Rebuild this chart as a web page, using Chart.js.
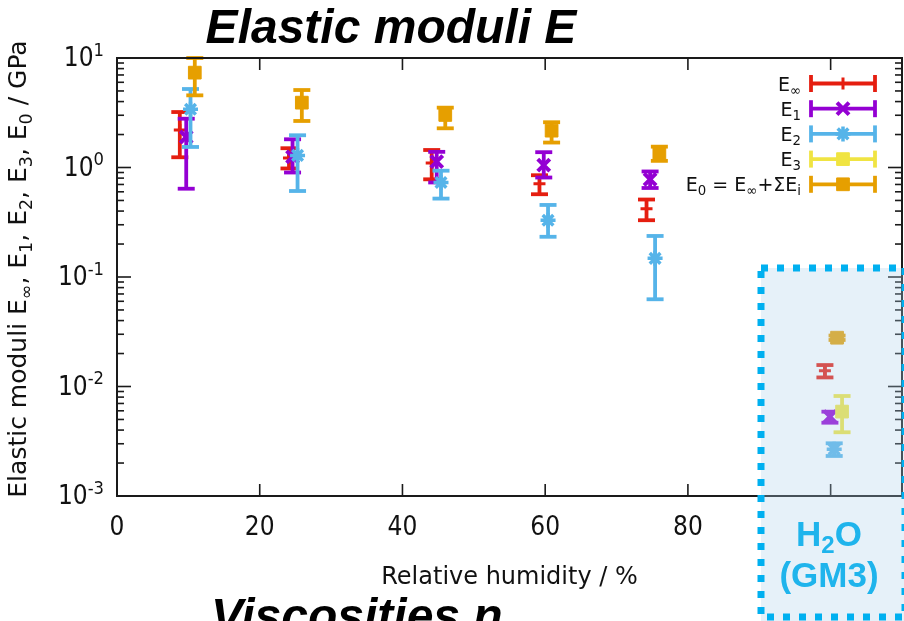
<!DOCTYPE html>
<html>
<head>
<meta charset="utf-8">
<script src="https://cdn.jsdelivr.net/npm/chart.js@4.4.1/dist/chart.umd.min.js"></script>
<style>
  body { margin: 0; background: #fff; }
  #wrap { width: 904px; height: 621px; }
</style>
</head>
<body>
<div id="wrap"><canvas id="chart" width="904" height="621"></canvas></div>
<script>
// relative humidity (%) and moduli (GPa), with lower / upper error limits
const rhInf  = [8.8, 24.1, 44.1, 59.2, 74.2, 99.2];
const eInf   = [2.2, 1.22, 1.1, 0.71, 0.42, 0.0139];
const eInfLo = [1.24, 0.98, 0.78, 0.57, 0.33, 0.0121];
const eInfHi = [3.21, 1.50, 1.445, 0.85, 0.51, 0.0157];

const rh1  = [9.7, 24.6, 44.8, 59.8, 74.7, 99.9];
const e1   = [1.9, 1.25, 1.13, 1.05, 0.78, 0.0053];
const e1Lo = [0.64, 0.90, 0.73, 0.81, 0.65, 0.00467];
const e1Hi = [2.79, 1.81, 1.39, 1.38, 0.92, 0.00589];

const rh2  = [10.3, 25.3, 45.4, 60.4, 75.4, 100.5];
const e2   = [3.40, 1.29, 0.73, 0.33, 0.148, 0.00267];
const e2Lo = [1.54, 0.61, 0.52, 0.233, 0.0626, 0.00232];
const e2Hi = [5.21, 1.97, 0.935, 0.455, 0.237, 0.00303];

const rh3  = [101.6];
const e3   = [0.0059];
const e3Lo = [0.00382];
const e3Hi = [0.00819];

const rh0  = [10.9, 25.9, 46.0, 60.9, 76.0, 100.9];
const e0   = [7.35, 3.91, 3.02, 2.17, 1.35, 0.0279];
const e0Lo = [4.56, 2.66, 2.28, 1.69, 1.15, 0.0266];
const e0Hi = [10.0, 5.1, 3.52, 2.59, 1.55, 0.0292];

const xTicks = [0, 20, 40, 60, 80, 100];
const yTicks = [0.001, 0.01, 0.1, 1, 10];
const yTickExp = ['-3', '-2', '-1', '0', '1'];

const legendLabels = [
  [['E', ''], ['\u221e', 'sub']],
  [['E', ''], ['1', 'sub']],
  [['E', ''], ['2', 'sub']],
  [['E', ''], ['3', 'sub']],
  [['E', ''], ['0', 'sub'], [' = E', ''], ['\u221e', 'sub'], ['+\u03a3E', ''], ['i', 'sub']]
];
const yTitle = [['Elastic moduli E', ''], ['\u221e', 'sub'], [', E', ''], ['1', 'sub'], [', E', ''], ['2', 'sub'],
  [', E', ''], ['3', 'sub'], [', E', ''], ['0', 'sub'], [' / GPa', '']];

const COND = "'DejaVu Sans Condensed', 'DejaVu Sans', sans-serif";
const WIDE = "'DejaVu Sans', Verdana, sans-serif";
const BOLD = "'Liberation Sans', Arial, sans-serif";

function pts(xs, ys) {
  return xs.map((x, i) => ({x: x, y: ys[i]}));
}

function partsWidth(ctx, parts, size, family) {
  let w = 0;
  for (const [t, k] of parts) {
    ctx.font = (k ? size * 0.7 : size) + 'px ' + family;
    w += ctx.measureText(t).width;
  }
  return w;
}

function drawParts(ctx, parts, x, y, size, align, family) {
  const w = partsWidth(ctx, parts, size, family);
  let cx = align === 'right' ? x - w : align === 'center' ? x - w / 2 : x;
  ctx.textAlign = 'left';
  ctx.textBaseline = 'alphabetic';
  for (const [t, k] of parts) {
    ctx.font = (k ? size * 0.7 : size) + 'px ' + family;
    const dy = k === 'sub' ? size * 0.22 : k === 'sup' ? -size * 0.4 : 0;
    ctx.fillText(t, cx, y + dy);
    cx += ctx.measureText(t).width;
  }
}

function line(ctx, x1, y1, x2, y2) {
  ctx.beginPath();
  ctx.moveTo(x1, y1);
  ctx.lineTo(x2, y2);
  ctx.stroke();
}

const series = [
  {label: 'Einf', x: rhInf, y: eInf, lo: eInfLo, hi: eInfHi, color: '#e51e10', style: 'cross', r: 6, bw: 3},
  {label: 'E1', x: rh1, y: e1, lo: e1Lo, hi: e1Hi, color: '#9400d3', style: 'crossRot', r: 8.5, bw: 4},
  {label: 'E2', x: rh2, y: e2, lo: e2Lo, hi: e2Hi, color: '#56b4e9', style: 'star', r: 7.5, bw: 3.5},
  {label: 'E3', x: rh3, y: e3, lo: e3Lo, hi: e3Hi, color: '#f0e442', style: 'rect', r: 9, bw: 1},
  {label: 'E0', x: rh0, y: e0, lo: e0Lo, hi: e0Hi, color: '#e69f00', style: 'rect', r: 9, bw: 1}
];

// error bars, drawn just before each dataset's points
const errorBars = {
  id: 'errorBars',
  beforeDatasetDraw(chart, args) {
    const s = series[args.index];
    const ctx = chart.ctx, xs = chart.scales.x, ys = chart.scales.y;
    ctx.save();
    ctx.strokeStyle = s.color;
    ctx.lineWidth = 3.8;
    ctx.lineCap = 'butt';
    for (let i = 0; i < s.x.length; i++) {
      const px = xs.getPixelForValue(s.x[i]);
      const yl = ys.getPixelForValue(s.lo[i]);
      const yh = ys.getPixelForValue(s.hi[i]);
      line(ctx, px, yl, px, yh);
      line(ctx, px - 8.5, yl, px + 8.5, yl);
      line(ctx, px - 8.5, yh, px + 8.5, yh);
    }
    ctx.restore();
  }
};

const decorations = {
  id: 'decorations',
  afterDraw(chart) {
    const ctx = chart.ctx, ca = chart.chartArea, xs = chart.scales.x, ys = chart.scales.y;
    ctx.save();
    // frame and inward ticks
    ctx.strokeStyle = '#1a1a1a';
    ctx.lineWidth = 2;
    ctx.strokeRect(ca.left, ca.top, ca.right - ca.left, ca.bottom - ca.top);
    ctx.lineWidth = 1.6;
    xTicks.forEach(v => {
      const px = xs.getPixelForValue(v);
      line(ctx, px, ca.bottom, px, ca.bottom - 12);
      line(ctx, px, ca.top, px, ca.top + 12);
    });
    yTicks.forEach((v, i) => {
      const py = ys.getPixelForValue(v);
      line(ctx, ca.left, py, ca.left + 14, py);
      line(ctx, ca.right, py, ca.right - 14, py);
      if (i < yTicks.length - 1) {
        for (let m = 2; m <= 9; m++) {
          const pm = ys.getPixelForValue(v * m);
          line(ctx, ca.left, pm, ca.left + 7, pm);
          line(ctx, ca.right, pm, ca.right - 7, pm);
        }
      }
    });
    // y tick labels 10^n
    ctx.fillStyle = '#111';
    yTicks.forEach((v, i) => {
      const py = ys.getPixelForValue(v);
      drawParts(ctx, [['10', ''], [yTickExp[i], 'sup']], 104, py + 8, 26, 'right', COND);
    });
    // y axis title
    ctx.save();
    ctx.translate(26, (ca.top + ca.bottom) / 2 - 8);
    ctx.rotate(-Math.PI / 2);
    drawParts(ctx, yTitle, 0, 0, 25, 'center', WIDE);
    ctx.restore();

    // H2O (GM3) box
    ctx.fillStyle = 'rgba(172, 208, 235, 0.3)';
    ctx.fillRect(761, 268, 143, 353);
    ctx.strokeStyle = '#00b0f0';
    ctx.lineWidth = 7;
    ctx.setLineDash([7, 9]);
    ctx.strokeRect(761, 268, 144, 349);
    ctx.setLineDash([]);
    ctx.fillStyle = '#1fb4ec';
    ctx.textBaseline = 'alphabetic';
    ctx.font = 'bold 35px ' + BOLD;
    const wH = ctx.measureText('H').width, wO = ctx.measureText('O').width;
    ctx.font = 'bold 24px ' + BOLD;
    const w2 = ctx.measureText('2').width;
    let hx = 829 - (wH + w2 + wO) / 2;
    ctx.textAlign = 'left';
    ctx.font = 'bold 35px ' + BOLD;
    ctx.fillText('H', hx, 546);
    ctx.font = 'bold 24px ' + BOLD;
    ctx.fillText('2', hx + wH, 553);
    ctx.font = 'bold 35px ' + BOLD;
    ctx.fillText('O', hx + wH + w2, 546);
    ctx.textAlign = 'center';
    ctx.fillText('(GM3)', 829, 587);

    // legend
    series.forEach((s, i) => {
      const ly = 83.5 + i * 25.2;
      ctx.fillStyle = '#111';
      drawParts(ctx, legendLabels[i], 801, ly + 7, 19, 'right', WIDE);
      ctx.strokeStyle = s.color;
      ctx.lineWidth = 3.8;
      line(ctx, 811, ly, 875, ly);
      line(ctx, 811, ly - 8.5, 811, ly + 8.5);
      line(ctx, 875, ly - 8.5, 875, ly + 8.5);
      ctx.fillStyle = s.color;
      ctx.lineWidth = s.bw;
      Chart.helpers.drawPoint(ctx, {pointStyle: s.style, radius: s.r, borderWidth: s.bw, rotation: 0}, 843, ly);
    });

    // titles
    ctx.fillStyle = '#000';
    ctx.textAlign = 'center';
    ctx.font = 'italic bold 48px ' + BOLD;
    ctx.fillText('Elastic moduli E', 391, 43);
    ctx.textAlign = 'left';
    ctx.fillText('Viscosities \u03b7', 211, 632);
    ctx.restore();
  }
};

const ctx = document.getElementById('chart').getContext('2d');
const myChart = new Chart(ctx, {
  type: 'scatter',
  data: {
    datasets: series.map((s, i) => ({
      label: s.label,
      data: pts(s.x, s.y),
      pointStyle: s.style,
      pointRadius: s.r,
      pointBorderWidth: s.bw,
      borderColor: s.color,
      backgroundColor: s.color,
      order: 5 - i,
      clip: false
    }))
  },
  options: {
    responsive: false,
    animation: false,
    devicePixelRatio: 1,
    layout: {autoPadding: false, padding: {top: 58, right: 2, left: 0, bottom: 0}},
    plugins: {legend: {display: false}, tooltip: {enabled: false}},
    scales: {
      x: {
        type: 'linear', min: 0, max: 110,
        afterBuildTicks: s => { s.ticks = xTicks.map(v => ({value: v})); },
        afterFit: s => { s.height = 125; s.paddingLeft = 0; s.paddingRight = 0; },
        grid: {display: false, drawTicks: false},
        border: {display: false},
        ticks: {
          font: {family: COND, size: 26}, color: '#111', padding: 17,
          maxRotation: 0, autoSkip: false,
          callback: v => (v <= 80 ? String(v) : '')
        },
        title: {
          display: true, text: 'Relative humidity / %', color: '#111',
          font: {family: WIDE, size: 24}, padding: {top: 0, bottom: 29}
        }
      },
      y: {
        type: 'logarithmic', min: 0.001, max: 10,
        afterFit: s => { s.width = 117; s.paddingTop = 0; s.paddingBottom = 0; },
        grid: {display: false, drawTicks: false},
        border: {display: false},
        ticks: {display: false}
      }
    }
  },
  plugins: [errorBars, decorations]
});
</script>
</body>
</html>
